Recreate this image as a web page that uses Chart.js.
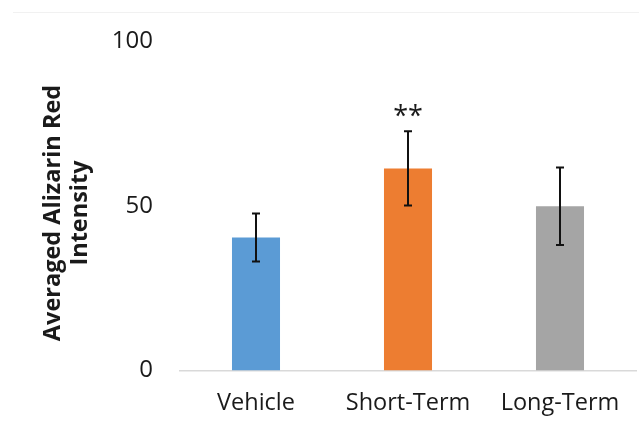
<!DOCTYPE html>
<html>
<head>
<meta charset="utf-8">
<script src="https://cdn.jsdelivr.net/npm/chart.js@4/dist/chart.umd.min.js"></script>
<style>
  html, body { margin: 0; padding: 0; background: #ffffff; }
  #wrap { width: 639px; height: 423px; position: relative; }
</style>
</head>
<body>
<div id="wrap"><canvas id="c" width="639" height="423"></canvas></div>
<script>
// Groups and measured Alizarin Red intensity (mean ± error)
const categories = ['Vehicle', 'Short-Term', 'Long-Term'];
const meanValues = [40.4, 61.4, 49.9];
const errorValues = [7.3, 11.3, 11.8];
const significance = ['', '**', ''];
const barColors = ['#5B9BD5', '#ED7D31', '#A5A5A5'];
const yTicks = [0, 50, 100];
const yTitleLines = ['Averaged Alizarin Red', 'Intensity'];

const textColor = '#1a1a1a';

// Draws error bars and significance marks on top of the bars
const errorBarPlugin = {
  id: 'errorBars',
  afterDatasetsDraw(chart) {
    const { ctx, scales: { x, y } } = chart;
    ctx.save();
    ctx.strokeStyle = '#111111';
    ctx.lineWidth = 2;
    const cap = 4;
    meanValues.forEach((v, i) => {
      const cx = x.getPixelForValue(i);
      const top = y.getPixelForValue(v + errorValues[i]);
      const bot = y.getPixelForValue(v - errorValues[i]);
      ctx.beginPath();
      ctx.moveTo(cx, top); ctx.lineTo(cx, bot);
      ctx.moveTo(cx - cap, top); ctx.lineTo(cx + cap, top);
      ctx.moveTo(cx - cap, bot); ctx.lineTo(cx + cap, bot);
      ctx.stroke();
      if (significance[i]) {
        ctx.fillStyle = textColor;
        ctx.font = '27px "Open Sans"';
        ctx.textAlign = 'center';
        ctx.textBaseline = 'middle';
        ctx.fillText(significance[i], cx, top - 14);
      }
    });
    ctx.restore();
  }
};

// Two-line rotated y-axis title and faint outer frame line
const decorPlugin = {
  id: 'decor',
  beforeDraw(chart) {
    const { ctx } = chart;
    ctx.save();
    ctx.fillStyle = '#ffffff';
    ctx.fillRect(0, 0, chart.width, chart.height);
    ctx.strokeStyle = '#f1f1f1';
    ctx.lineWidth = 1;
    ctx.beginPath();
    ctx.moveTo(13, 12.5); ctx.lineTo(chart.width, 12.5);
    ctx.stroke();
    ctx.restore();
  },
  afterDraw(chart) {
    const { ctx } = chart;
    ctx.save();
    ctx.fillStyle = textColor;
    ctx.font = 'bold 23.5px "Open Sans"';
    ctx.textAlign = 'center';
    ctx.textBaseline = 'middle';
    const cy = 213;
    const xs = [53, 80];
    yTitleLines.forEach((line, i) => {
      ctx.save();
      ctx.translate(xs[i], cy);
      ctx.rotate(-Math.PI / 2);
      ctx.fillText(line, 0, 0);
      ctx.restore();
    });
    ctx.restore();
  }
};

new Chart(document.getElementById('c'), {
  type: 'bar',
  data: {
    labels: categories,
    datasets: [{
      data: meanValues,
      backgroundColor: barColors,
      borderWidth: 0,
      categoryPercentage: 1,
      barPercentage: 0.316
    }]
  },
  options: {
    responsive: false,
    animation: false,
    devicePixelRatio: 1,
    layout: { padding: { top: 39, right: 3, bottom: 0, left: 0 } },
    plugins: {
      legend: { display: false },
      tooltip: { enabled: false }
    },
    scales: {
      x: {
        grid: { display: false, drawTicks: false },
        border: { display: true, color: '#d9d9d9', width: 1.5 },
        ticks: {
          color: textColor,
          font: { family: 'Open Sans', size: 23.5 },
          padding: 19,
          maxRotation: 0
        },
        afterFit(scale) { scale.height = 52.5; }
      },
      y: {
        min: 0,
        max: 100,
        grid: { display: false, drawTicks: false },
        border: { display: false },
        afterBuildTicks(scale) { scale.ticks = yTicks.map(v => ({ value: v })); },
        ticks: {
          color: textColor,
          font: { family: 'Open Sans', size: 24 },
          padding: 27
        },
        afterFit(scale) { scale.width = 180; }
      }
    }
  },
  plugins: [decorPlugin, errorBarPlugin]
});
</script>
</body>
</html>
